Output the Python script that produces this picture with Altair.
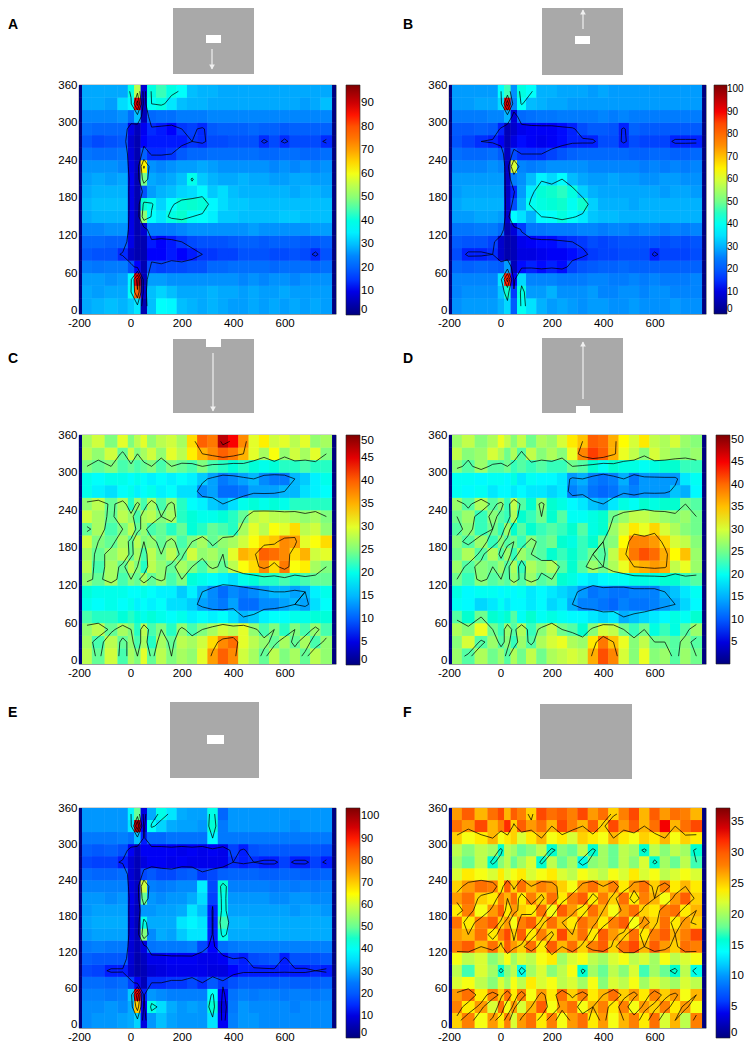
import altair as alt
import pandas as pd

X_EDGES = [-188,-150,-100,-50,-10,15,40,65,100,140,180,220,260,300,340,380,420,460,500,540,580,620,660,700,740,785]
Y_EDGES = [-5,20,40,60,80,100,120,140,160,180,200,220,240,260,280,300,320,340,360]
JET = ["#00007f","#0000ff","#007fff","#00ffff","#7fff7f","#ffff00","#ff7f00","#ff0000","#7f0000"]

GRID_A = [
[28,29,30,29,31,34,5,30,37,36,30,29,28,29,28,27,27,28,27,28,27,28,27,28,27],
[28,27,28,28,38,78,8,30,32,30,28,28,28,29,28,28,27,28,27,27,28,27,27,27,27],
[27,27,26,27,36,88,6,27,27,26,26,26,26,26,26,26,25,26,25,26,26,25,26,26,26],
[24,23,24,24,18,12,5,17,16,17,17,18,18,21,21,22,22,22,22,21,22,22,22,21,22],
[19,18,18,14,7,5,5,12,12,13,12,13,15,15,16,16,18,18,18,17,17,18,17,14,18],
[21,21,20,20,10,5,5,13,12,13,15,17,18,18,18,19,20,20,19,20,20,20,19,19,20],
[25,25,26,26,10,5,8,24,24,24,25,26,26,26,26,26,26,27,26,26,26,26,26,27,27],
[28,29,29,29,10,5,50,37,34,40,42,38,37,35,31,31,30,30,30,30,31,31,30,30,30],
[29,30,30,30,10,5,42,39,32,37,41,42,41,36,33,31,31,30,30,30,30,30,30,30,30],
[28,29,29,29,10,5,18,27,29,30,32,33,36,31,33,30,29,29,29,29,29,28,29,29,28],
[27,28,27,28,11,5,48,28,27,28,30,39,31,29,28,28,29,28,28,27,27,28,28,27,27],
[26,26,26,25,10,6,62,26,25,26,27,27,28,27,26,26,26,26,26,25,26,25,26,25,26],
[23,22,22,23,9,5,20,14,14,15,19,21,21,22,22,22,22,22,21,21,22,22,21,21,22],
[19,17,18,19,8,5,12,13,13,13,13,15,14,17,17,18,18,18,14,17,14,17,17,17,14],
[22,21,21,21,10,6,11,14,13,12,15,16,14,19,20,20,20,21,20,20,19,20,20,20,20],
[25,25,25,26,22,30,6,21,22,22,24,24,24,25,25,25,25,25,25,25,25,25,25,25,25],
[28,28,27,33,36,88,7,38,40,34,30,29,29,28,28,28,28,28,28,28,28,28,27,28,30],
[28,28,28,28,40,55,8,40,44,40,37,30,29,29,28,28,28,28,28,28,28,28,28,28,28],
]
GRID_B = [
[27,28,28,28,30,34,20,40,35,30,28,29,28,27,28,28,27,27,28,27,27,27,28,27,27],
[26,27,27,27,32,44,16,42,28,28,30,27,27,27,28,26,26,27,27,26,27,27,26,26,26],
[26,26,26,26,35,88,12,34,26,26,26,25,25,25,26,26,25,25,26,25,26,25,25,25,26],
[22,21,22,21,20,28,6,13,14,13,14,13,17,19,20,21,21,22,21,21,21,21,21,21,21],
[18,14,14,15,8,5,6,10,10,11,12,12,13,14,16,17,17,18,18,18,14,17,17,17,18],
[20,19,19,17,8,5,6,11,12,13,13,14,15,16,18,17,18,19,19,19,19,18,19,18,19],
[24,24,25,25,22,5,9,16,24,24,25,25,25,26,26,25,26,26,25,26,26,25,26,25,26],
[28,28,29,29,28,8,38,35,30,38,39,42,39,36,32,31,31,30,30,30,30,30,30,30,30],
[29,30,30,30,30,8,18,30,40,42,43,44,40,44,33,30,30,30,29,30,30,30,30,30,30],
[28,29,29,29,29,7,14,28,36,43,44,45,42,33,30,29,29,29,29,29,29,28,29,29,28],
[28,28,28,28,28,7,25,27,31,37,34,38,31,29,28,28,29,28,28,27,27,28,28,27,27],
[26,26,26,27,26,7,60,26,25,26,27,27,27,27,26,26,26,26,26,25,26,25,26,25,26],
[23,22,22,23,20,7,18,15,15,15,17,19,21,22,22,22,22,22,21,21,22,22,21,21,22],
[19,17,15,14,12,6,10,13,12,11,12,13,14,14,14,18,18,14,18,17,17,17,14,14,14],
[20,20,21,20,14,6,8,11,12,12,12,13,14,18,20,20,19,14,21,20,20,20,20,20,20],
[25,25,25,26,26,30,9,22,23,24,24,25,25,25,25,26,25,26,25,25,25,25,25,25,25],
[28,28,29,29,34,92,26,39,31,30,29,29,28,28,28,28,28,28,28,28,28,28,28,28,28],
[28,28,28,28,38,46,27,42,39,30,30,29,29,29,28,29,28,28,28,28,28,28,28,28,28],
]
GRID_C = [
[28,24,29,23,27,25,30,24,28,25,27,26,30,36,40,37,29,27,24,28,25,27,24,28,26],
[27,23,28,24,26,23,27,22,27,24,28,27,29,33,37,39,30,28,26,24,27,24,27,23,26],
[26,28,24,27,25,22,28,23,25,22,26,23,25,27,29,28,30,26,23,25,22,25,23,26,23],
[23,22,22,21,22,21,20,21,20,19,20,18,19,18,19,17,15,16,18,19,19,20,20,21,21],
[20,19,20,19,20,18,19,18,19,17,17,16,14,13,12,14,11,11,13,13,14,15,14,17,19],
[21,20,20,20,19,19,20,19,18,18,16,18,15,13,11,13,12,13,14,15,15,14,15,18,20],
[26,24,27,23,25,24,27,24,26,23,25,21,20,19,18,17,20,21,22,22,23,22,23,24,24],
[28,23,27,24,28,25,22,28,26,24,27,25,23,26,24,28,31,33,37,33,38,31,32,27,25],
[27,24,26,28,24,27,23,28,25,28,24,29,26,27,25,30,35,34,40,39,37,33,35,29,30],
[29,25,24,27,24,28,25,26,24,26,23,25,27,24,26,27,29,31,33,34,37,36,30,31,33],
[24,27,23,25,28,24,26,23,24,22,24,21,22,24,23,22,27,30,28,31,30,33,28,29,26],
[29,27,24,28,26,23,27,28,25,27,22,21,20,20,21,22,24,28,29,28,28,27,26,27,25],
[26,28,24,27,22,26,23,27,23,26,22,19,18,16,15,17,20,21,20,21,20,22,22,22,22],
[20,18,17,19,20,18,19,20,18,19,17,17,13,14,11,11,12,14,14,14,15,15,17,18,19],
[20,19,20,20,19,20,19,18,19,18,19,18,16,14,12,13,14,15,13,12,12,15,16,18,20],
[25,24,25,23,24,23,24,25,23,25,24,23,25,23,22,21,22,21,20,21,22,22,23,22,22],
[28,26,29,24,29,25,27,29,26,30,28,32,35,37,40,38,35,30,27,31,26,29,27,30,25],
[27,29,25,30,25,28,30,26,28,29,27,33,40,38,47,44,37,30,32,29,30,28,30,26,27],
]
GRID_D = [
[27,24,28,25,27,24,28,25,29,25,28,29,30,29,36,42,38,30,26,31,26,27,24,27,25],
[26,30,24,27,24,26,23,27,24,28,30,31,28,27,33,39,35,31,26,29,25,25,24,26,24],
[28,26,31,25,23,27,24,28,23,26,29,25,24,22,26,30,29,25,23,25,21,23,21,24,27],
[24,22,25,22,21,22,24,20,22,20,21,20,19,19,18,17,18,15,16,17,18,19,21,20,22],
[20,19,17,18,20,18,19,19,18,19,17,18,15,13,13,12,11,13,12,12,13,14,15,17,19],
[21,19,20,20,19,20,19,20,18,19,18,17,16,14,12,13,12,12,13,13,13,15,16,18,20],
[25,23,26,24,25,24,27,24,27,24,25,22,21,19,18,19,20,20,21,21,21,22,22,23,24],
[27,24,26,25,27,24,28,23,28,26,28,24,22,24,27,25,28,31,35,36,37,36,29,31,27],
[25,28,24,28,24,27,23,27,25,24,22,23,22,23,25,24,29,34,39,42,40,36,32,35,27],
[26,24,27,23,26,24,25,23,26,24,25,22,21,23,22,25,26,32,38,38,37,34,30,29,26],
[24,26,23,25,23,27,22,24,22,23,24,23,22,24,21,22,27,30,33,31,34,30,28,26,25],
[25,27,23,26,24,23,28,22,23,25,22,24,20,20,21,22,25,27,29,29,28,27,26,27,25],
[27,24,28,24,26,23,29,24,22,26,22,21,19,18,16,15,18,21,20,22,21,22,22,25,24],
[20,19,20,18,19,19,18,19,18,18,17,18,13,14,12,11,12,14,13,14,14,14,16,15,19],
[20,20,19,20,20,19,21,18,20,19,19,18,14,15,13,12,13,15,12,14,14,14,14,18,20],
[26,24,27,24,24,25,23,24,23,24,23,23,25,24,22,20,22,21,21,20,21,22,22,23,23],
[29,26,27,30,28,25,28,24,29,26,28,26,31,38,43,41,36,31,29,26,30,28,27,26,27],
[27,29,26,28,31,29,26,29,25,28,27,30,33,35,41,40,36,32,30,33,29,28,30,27,26],
]
GRID_E = [
[27,28,28,29,30,34,10,28,32,29,28,28,28,36,12,26,28,28,27,27,27,27,27,27,27],
[27,27,28,27,30,70,12,42,35,30,28,29,28,44,10,25,28,27,27,27,27,26,27,27,27],
[26,26,25,26,33,92,14,28,27,26,26,26,26,40,13,24,26,25,26,26,25,26,26,25,26],
[23,23,22,23,17,12,6,15,15,16,16,18,15,20,16,19,21,21,21,21,22,21,21,21,22],
[18,17,14,14,8,5,6,9,10,11,11,11,11,10,10,13,14,14,14,14,14,14,14,15,14],
[21,20,20,20,9,5,7,11,11,12,12,12,11,11,12,15,14,18,19,20,14,19,19,19,20],
[25,26,25,25,9,6,10,24,25,25,25,26,18,13,23,25,26,26,26,26,26,26,26,26,26],
[28,29,29,29,10,6,52,27,30,29,33,36,36,14,42,30,30,30,30,30,30,30,30,30,30],
[29,30,30,30,10,6,42,30,30,30,36,38,36,14,47,31,31,30,30,30,30,30,30,30,30],
[28,29,29,29,10,6,28,28,29,29,30,36,32,14,42,29,29,29,29,29,29,28,29,29,28],
[28,28,27,28,11,7,50,28,27,28,28,30,35,17,42,28,28,28,28,27,27,28,28,27,27],
[26,26,26,26,10,7,60,26,25,26,27,27,37,18,44,26,26,26,26,25,26,25,26,25,26],
[23,22,22,23,9,6,18,20,18,18,20,21,16,18,21,22,22,22,21,21,22,22,21,21,22],
[18,17,17,14,9,6,10,12,12,11,12,11,11,11,11,15,14,15,14,14,17,14,14,17,14],
[21,20,21,19,12,7,12,12,12,12,11,12,11,12,11,17,14,19,20,20,20,20,20,20,19],
[25,25,25,26,24,32,14,22,22,24,24,24,24,38,25,25,25,25,25,25,25,25,25,25,25],
[28,28,28,28,36,98,12,40,34,30,29,29,28,44,25,28,28,28,28,28,28,27,28,28,28],
[28,28,28,28,38,50,10,30,42,36,30,29,29,42,22,28,28,28,28,28,28,28,28,28,28],
]
GRID_F = [
[25,28,23,27,24,28,22,27,29,24,28,23,27,29,24,27,23,26,28,24,29,22,26,21,28],
[28,24,27,22,29,23,27,22,26,30,23,27,29,23,26,28,24,28,23,27,25,28,24,27,23],
[27,29,24,28,25,29,24,28,23,27,24,29,25,28,24,26,29,25,27,24,28,25,27,23,26],
[22,23,21,19,22,20,23,21,24,22,23,21,22,20,23,19,22,21,23,20,22,21,20,22,21],
[21,17,22,20,16,19,21,15,20,22,19,21,23,16,20,18,21,19,22,17,20,18,16,21,15],
[23,21,22,19,21,23,20,22,21,23,24,20,22,23,21,20,22,23,21,22,20,23,21,22,23],
[28,30,26,29,25,30,27,25,29,24,30,26,29,25,28,30,25,29,31,26,30,27,25,29,28],
[27,26,29,24,28,31,25,30,24,28,25,31,26,29,24,30,27,25,29,24,28,30,26,28,31],
[29,24,28,30,25,27,23,28,30,25,29,26,24,29,27,24,28,30,23,27,25,29,24,27,25],
[24,28,23,27,30,24,27,25,24,29,23,30,27,24,29,26,23,27,29,25,24,28,29,24,26],
[27,29,25,24,28,26,29,24,28,25,29,24,28,30,24,28,25,29,24,28,26,23,27,30,25],
[25,27,29,28,24,30,25,29,26,28,27,25,23,27,29,26,28,24,27,29,25,28,24,26,24],
[22,24,23,22,24,22,23,24,22,23,24,22,21,23,22,21,23,22,24,22,23,21,22,23,22],
[20,18,21,16,19,21,18,20,22,16,21,18,20,15,19,20,18,21,19,22,16,20,18,21,17],
[21,19,21,20,16,21,20,18,19,21,16,19,18,21,16,20,18,21,20,16,21,19,21,20,16],
[25,23,24,26,23,24,25,22,24,26,23,24,22,25,24,23,26,24,23,25,24,26,23,25,24],
[29,27,31,26,28,32,25,30,27,29,26,31,28,26,30,25,31,27,30,26,29,33,26,29,31],
[27,30,26,29,31,26,30,28,25,31,29,30,28,31,27,29,25,28,31,26,30,27,29,28,26],
]

PANELS = [
 ("A", GRID_A, [0, 97.7], list(range(0, 100, 10)), [15, 38, 60, 80]),
 ("B", GRID_B, [0, 102], list(range(0, 110, 10)), [15, 38, 60, 80]),
 ("C", GRID_C, [0, 50], list(range(0, 55, 5)), [15, 25, 35, 45]),
 ("D", GRID_D, [0.2, 51], list(range(5, 55, 5)), [15, 25, 35, 45]),
 ("E", GRID_E, [0, 103.8], list(range(0, 110, 10)), [15, 38, 60, 80]),
 ("F", GRID_F, [0, 37.3], list(range(0, 40, 5)), [17, 26, 33]),
]

# stimulus thumbnails, in figure pixels: x domain, rectangles, arrow, letter
THUMBS = {
 "A": dict(xd=[79,336], yd=[8,85], grey=[173,254,8,74], white=[206,221,35,43], arrow=[212,49,69], letter=[8,25]),
 "B": dict(xd=[449,706], yd=[8,85], grey=[542,623,8,75], white=[575,590,36,44], arrow=[583,29,10], letter=[403,25]),
 "C": dict(xd=[79,336], yd=[314,435], grey=[173,254,339,413], white=[206,221,339,347], arrow=[213,353,411], letter=[8,359]),
 "D": dict(xd=[449,706], yd=[314,435], grey=[542,623,338,413], white=[576,590,406,413], arrow=[583,399,342], letter=[403,359]),
 "E": dict(xd=[79,336], yd=[664,808], grey=[170,259,702,778], white=[207,224,735,744], arrow=None, letter=[8,713]),
 "F": dict(xd=[449,706], yd=[664,808], grey=[540,632,704,779], white=None, arrow=None, letter=[403,713]),
}
CELL_H = {"A": 229, "B": 229, "C": 229, "D": 229, "E": 220, "F": 220}
BAR_H = {"A": 230, "B": 229, "C": 230, "D": 229, "E": 230, "F": 230}
BAR_FONT = {"A": 11.5, "B": 10, "C": 11.5, "D": 11.5, "E": 11, "F": 11.5}
BAR_OFFSET = {"A": 10, "B": 8, "C": 10, "D": 10, "E": 10, "F": 10}
BAR_LABEL_OFFSET = {"A": 1, "B": 0, "C": 1, "D": 1, "E": 1, "F": 1}
FONT = "Liberation Sans"


def contour_segments(grid, levels):
    xc = [(a + b) / 2 for a, b in zip(X_EDGES[:-1], X_EDGES[1:])]
    yc = [(a + b) / 2 for a, b in zip(Y_EDGES[:-1], Y_EDGES[1:])]
    segs = []
    for lev in levels:
        for j in range(len(yc) - 1):
            for i in range(len(xc) - 1):
                corners = [(xc[i], yc[j], grid[j][i]), (xc[i+1], yc[j], grid[j][i+1]),
                           (xc[i+1], yc[j+1], grid[j+1][i+1]), (xc[i], yc[j+1], grid[j+1][i])]
                pts = []
                for k in range(4):
                    a, b = corners[k], corners[(k + 1) % 4]
                    if (a[2] >= lev) != (b[2] >= lev):
                        t = (lev - a[2]) / (b[2] - a[2])
                        pts.append((a[0] + t * (b[0] - a[0]), a[1] + t * (b[1] - a[1])))
                for s in range(0, len(pts) - 1, 2):
                    segs.append(dict(x=round(pts[s][0], 1), y=round(pts[s][1], 1),
                                     xe=round(pts[s+1][0], 1), ye=round(pts[s+1][1], 1)))
    return pd.DataFrame(segs)


def heat_panel(name, grid, domain, ticks, levels):
    rows = []
    for j, row in enumerate(grid):
        full = [(-200, -188, domain[0])] + [(X_EDGES[i], X_EDGES[i+1], v) for i, v in enumerate(row)] + [(785, 800, domain[0])]
        for x0, x1, v in full:
            rows.append(dict(x0=x0, x1=x1, y0=Y_EDGES[j], y1=Y_EDGES[j+1], v=v))
    df = pd.DataFrame(rows)
    xs = alt.Scale(domain=[-200, 800], nice=False, zero=False)
    ys = alt.Scale(domain=[-5, 360], nice=False, zero=False)
    xa = alt.Axis(title=None, values=[-200, 0, 200, 400, 600], ticks=False, domain=False, grid=False,
                  labelPadding=3, labelFont=FONT, labelFontSize=11.5, labelColor="black", labelFlush=False,
                  labelExpr="'' + datum.value")
    ya = alt.Axis(title=None, values=[0, 60, 120, 180, 240, 300, 360], ticks=False, domain=False, grid=False,
                  labelPadding=2, labelFont=FONT, labelFontSize=11.5, labelColor="black", labelFlush=False, labelOverlap=False)
    cs = alt.Scale(domain=domain, range=JET, nice=False, zero=False)
    leg = alt.Legend(type="gradient", title=None, values=ticks, gradientLength=BAR_H[name],
                     gradientThickness=14 if name != "B" else 13, offset=BAR_OFFSET[name], padding=0,
                     labelOffset=BAR_LABEL_OFFSET[name], labelFont=FONT, labelFontSize=BAR_FONT[name], labelColor="black", labelOverlap=False,
                     gradientStrokeColor="#222", gradientStrokeWidth=0.6)
    heat = alt.Chart(df).mark_rect().encode(
        x=alt.X("x0:Q", scale=xs, axis=xa), x2="x1:Q",
        y=alt.Y("y0:Q", scale=ys, axis=ya), y2="y1:Q",
        color=alt.Color("v:Q", scale=cs, legend=leg),
    )
    cont = alt.Chart(contour_segments(grid, levels)).mark_rule(color="black", strokeWidth=0.8, opacity=0.9).encode(
        x=alt.X("x:Q", scale=xs, axis=xa), x2="xe:Q",
        y=alt.Y("y:Q", scale=ys, axis=ya), y2="ye:Q",
    )
    return alt.layer(heat, heat, cont).properties(width=257, height=CELL_H[name])


def thumb_panel(name):
    t = THUMBS[name]
    xs = alt.Scale(domain=t["xd"], nice=False, zero=False)
    ys = alt.Scale(domain=[t["yd"][1], t["yd"][0]], nice=False, zero=False)
    nox = alt.X("x0:Q", scale=xs, axis=None)
    noy = alt.Y("y0:Q", scale=ys, axis=None)
    rects = [dict(x0=t["grey"][0], x1=t["grey"][1], y0=t["grey"][2], y1=t["grey"][3], c="#a9a9a9")]
    if t["white"]:
        w = t["white"]
        rects.append(dict(x0=w[0], x1=w[1], y0=w[2], y1=w[3], c="#ffffff"))
    layers = [alt.Chart(pd.DataFrame(rects)).mark_rect().encode(x=nox, x2="x1:Q", y=noy, y2="y1:Q",
                                                                 color=alt.Color("c:N", scale=None))]
    if t["arrow"]:
        ax, y0, y1 = t["arrow"]
        adf = pd.DataFrame([dict(x0=ax, y0=y0, y1=y1)])
        layers.append(alt.Chart(adf).mark_rule(color="#f0f0f0", strokeWidth=1.2).encode(x=nox, y=noy, y2="y1:Q"))
        shape = "triangle-down" if y1 > y0 else "triangle-up"
        head = pd.DataFrame([dict(x0=ax, y0=y1 - 2 if y1 > y0 else y1 + 2)])
        layers.append(alt.Chart(head).mark_point(shape=shape, filled=True, size=32, color="#f0f0f0", opacity=1).encode(x=nox, y=noy))
    lx, ly = t["letter"]
    ldf = pd.DataFrame([dict(x0=lx, y0=ly, s=name)])
    layers.append(alt.Chart(ldf).mark_text(align="left", baseline="middle", font=FONT, fontSize=14, fontWeight="bold", color="black")
                  .encode(x=nox, y=noy, text="s:N"))
    return alt.layer(*layers).properties(width=257, height=t["yd"][1] - t["yd"][0], view=alt.ViewConfig(stroke=None))


cells = []
for i in range(0, 6, 2):
    a, b = PANELS[i], PANELS[i + 1]
    cells += [thumb_panel(a[0]), thumb_panel(b[0]), heat_panel(*a), heat_panel(*b)]

chart = alt.concat(*cells, columns=2, spacing={"row": 0, "column": 113},
                   bounds="flush", align="each").resolve_scale(
    color="independent"
).configure_view(stroke="#2a3a3a", strokeWidth=0.7).properties(
    padding={"left": 0, "top": 0, "right": -1, "bottom": 0}, background="white")

chart.save("out.html", embed_options={"renderer": "svg", "actions": False})
